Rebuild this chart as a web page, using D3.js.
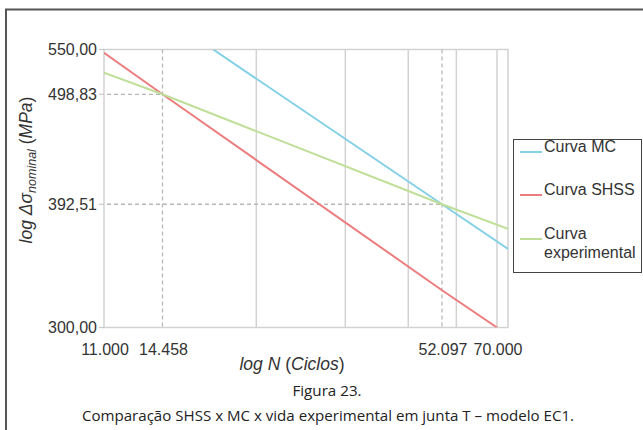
<!DOCTYPE html>
<html>
<head>
<meta charset="utf-8">
<script src="https://cdn.jsdelivr.net/npm/d3@7"></script>
<style>
  body { margin: 0; background: #fff; }
  svg { display: block; }
</style>
</head>
<body>
<div id="chart"></div>
<script>
// tick values / labels
var xTickVals = [11000, 14458, 52097, 70000];
var xTickLabels = ["11.000", "14.458", "52.097", "70.000"];
var yTickVals = [300, 392.51, 498.83, 550];
var yTickLabels = ["300,00", "392,51", "498,83", "550,00"];
var xGrid = [22230, 33440, 44630, 56270, 70000];
var xMax = 74000;

var seriesNames = ["Curva MC", "Curva SHSS", "Curva experimental"];
var seriesColors = ["#84d0e6", "#ec7c7e", "#bfdf98"];

// N (ciclos), S (MPa)
var mcN = [18240, 52097, 74000];
var mcS = [550, 392.51, 356];
var shssN = [11000, 14458, 52097, 70000];
var shssS = [546, 498.83, 325.4, 300];
var expN = [11000, 14458, 52097, 74000];
var expS = [523, 498.83, 392.51, 372];

var W = 643, H = 430;
var svg = d3.select("#chart").append("svg")
    .attr("width", W)
    .attr("height", H);

// outer frame (runs off the right/bottom of the picture)
svg.append("rect")
    .attr("x", 6).attr("y", 9.5)
    .attr("width", 700).attr("height", 500)
    .attr("fill", "none")
    .attr("stroke", "#555")
    .attr("stroke-width", 2);

var pL = 104, pR = 508, pT = 49.5, pB = 327.5;

// the printed axis is log but not perfectly uniform, so use a piecewise log scale
var x = d3.scaleLog()
    .domain([11000, 14458, 52097, 70000, xMax])
    .range([pL, 162.5, 442, 497, pR]);
var y = d3.scaleLog()
    .domain([300, 550])
    .range([pB, pT]);

var font = "Liberation Sans, Arial, Helvetica, sans-serif";

// grid
var g = svg.append("g");
g.selectAll(".vgrid")
    .data(xGrid)
    .enter().append("line")
    .attr("x1", function(d) { return x(d); })
    .attr("x2", function(d) { return x(d); })
    .attr("y1", pT).attr("y2", pB)
    .attr("stroke", "#d2d2d2")
    .attr("stroke-width", 1.5);

// frame of plot
g.append("path")
    .attr("d", "M" + pL + "," + pT + "H" + pR + "V" + pB + "H" + pL + "Z")
    .attr("fill", "none")
    .attr("stroke", "#d2d2d2")
    .attr("stroke-width", 1.5);

// dashed reference lines
var refN = [14458, 52097];
var refS = [498.83, 392.51];
g.selectAll(".vdash")
    .data(refN)
    .enter().append("line")
    .attr("x1", function(d) { return x(d); })
    .attr("x2", function(d) { return x(d); })
    .attr("y1", pT).attr("y2", pB)
    .attr("stroke", "#b8b8b8")
    .attr("stroke-width", 1.3)
    .attr("stroke-dasharray", "4,3");
g.selectAll(".hdash")
    .data(refS)
    .enter().append("line")
    .attr("x1", pL + 3)
    .attr("x2", function(d, i) { return x(refN[i]); })
    .attr("y1", function(d) { return y(d); })
    .attr("y2", function(d) { return y(d); })
    .attr("stroke", "#b8b8b8")
    .attr("stroke-width", 1.3)
    .attr("stroke-dasharray", "4,3");

// y ticks
g.selectAll(".ytick")
    .data(yTickVals)
    .enter().append("line")
    .attr("x1", pL - 5).attr("x2", pL)
    .attr("y1", function(d) { return y(d); })
    .attr("y2", function(d) { return y(d); })
    .attr("stroke", "#c8c8c8")
    .attr("stroke-width", 1.2);

svg.selectAll(".ylab")
    .data(yTickVals)
    .enter().append("text")
    .attr("x", 97)
    .attr("y", function(d) { return y(d); })
    .attr("dy", "0.36em")
    .attr("text-anchor", "end")
    .attr("font-family", font)
    .attr("font-size", 16)
    .attr("fill", "#333")
    .text(function(d, i) { return yTickLabels[i]; });

svg.selectAll(".xlab")
    .data(xTickVals)
    .enter().append("text")
    .attr("x", function(d) { return x(d) + 1; })
    .attr("y", 355)
    .attr("text-anchor", "middle")
    .attr("font-family", font)
    .attr("font-size", 16)
    .attr("fill", "#333")
    .text(function(d, i) { return xTickLabels[i]; });

// curves
svg.append("clipPath").attr("id", "plotclip")
    .append("rect")
    .attr("x", pL).attr("y", pT)
    .attr("width", pR - pL).attr("height", pB - pT);

var line = d3.line()
    .x(function(d) { return x(d[0]); })
    .y(function(d) { return y(d[1]); });

var series = [d3.zip(mcN, mcS), d3.zip(shssN, shssS), d3.zip(expN, expS)];
svg.append("g")
    .attr("clip-path", "url(#plotclip)")
    .selectAll("path")
    .data(series)
    .enter().append("path")
    .attr("d", line)
    .attr("fill", "none")
    .attr("stroke", function(d, i) { return seriesColors[i]; })
    .attr("stroke-width", 2);

// axis titles
var xt = svg.append("text")
    .attr("x", 292).attr("y", 370)
    .attr("text-anchor", "middle")
    .attr("font-family", font)
    .attr("font-size", 17.5)
    .attr("fill", "#333");
xt.append("tspan").attr("font-style", "italic").text("log N ");
xt.append("tspan").text("(");
xt.append("tspan").attr("font-style", "italic").text("Ciclos");
xt.append("tspan").text(")");

var yt = svg.append("text")
    .attr("transform", "translate(32,170) rotate(-90)")
    .attr("text-anchor", "middle")
    .attr("font-family", font)
    .attr("font-size", 17.5)
    .attr("fill", "#333");
yt.append("tspan").attr("font-style", "italic").text("log Δσ");
yt.append("tspan").attr("font-style", "italic").attr("font-size", 12.5).attr("dy", 4).text("nominal");
yt.append("tspan").attr("dy", -4).text(" (");
yt.append("tspan").attr("font-style", "italic").text("MPa");
yt.append("tspan").text(")");

// legend
var lg = svg.append("g");
lg.append("rect")
    .attr("x", 513.5).attr("y", 139.5)
    .attr("width", 128).attr("height", 133)
    .attr("fill", "#fff")
    .attr("stroke", "#444")
    .attr("stroke-width", 1);

var legendY = [152, 195, 239];
var legendLines = [["Curva MC"], ["Curva SHSS"], ["Curva", "experimental"]];
legendY.forEach(function(ly, i) {
    lg.append("line")
        .attr("x1", 520).attr("x2", 542)
        .attr("y1", ly).attr("y2", ly)
        .attr("stroke", seriesColors[i])
        .attr("stroke-width", 2);
    var t = lg.append("text")
        .attr("x", 544)
        .attr("y", ly)
        .attr("dy", "0.36em")
        .attr("font-family", font)
        .attr("font-size", 16)
        .attr("fill", "#333");
    legendLines[i].forEach(function(s, j) {
        t.append("tspan").attr("x", 544).attr("dy", j === 0 ? 0 : 19).text(s);
    });
});

// figure caption
var capFont = "Open Sans, Noto Sans, sans-serif";
svg.append("text")
    .attr("x", 327).attr("y", 396)
    .attr("text-anchor", "middle")
    .attr("font-family", capFont)
    .attr("font-size", 15.2)
    .attr("fill", "#222")
    .text("Figura 23.");
svg.append("text")
    .attr("x", 328).attr("y", 421)
    .attr("text-anchor", "middle")
    .attr("font-family", capFont)
    .attr("font-size", 15.1)
    .attr("fill", "#222")
    .text("Comparação SHSS x MC x vida experimental em junta T – modelo EC1.");
</script>
</body>
</html>
